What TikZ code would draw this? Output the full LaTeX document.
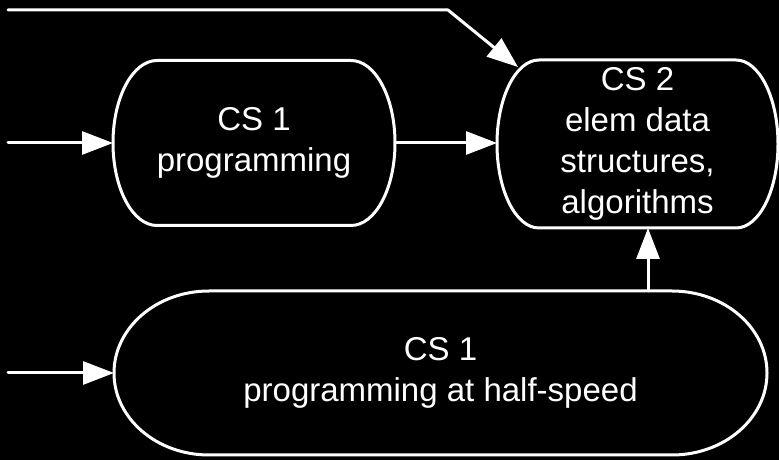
\documentclass[tikz,border=0pt]{standalone}
\usepackage{fontspec}
\setmainfont{Liberation Sans}
\usetikzlibrary{arrows.meta}
\newcommand\stadiumoutline[3]{%
  \draw[outline] ([xshift=#2pt]#1.north west) -- ([xshift=-#2pt]#1.north east)
    arc[start angle=90,end angle=-90,x radius=#2pt,y radius=#3pt]
    -- ([xshift=#2pt]#1.south west)
    arc[start angle=270,end angle=90,x radius=#2pt,y radius=#3pt] -- cycle;}
\begin{document}
\begin{tikzpicture}[x=1pt,y=1pt,
  box/.style={rectangle, draw=none, inner sep=0pt, outer sep=0pt, align=center,
    text=white, font=\fontsize{33}{41}\selectfont},
  outline/.style={draw=white, line width=3pt},
  arr/.style={draw=white, line width=3pt, line cap=round, line join=round,
    -{Triangle[length=31pt,width=23pt]}, fill=none},
  arr/.append style={every arrow/.style={fill=white}}]
\fill[black] (0,0) rectangle (779,460);
\useasboundingbox (0,0) rectangle (779,460);

\node[box, minimum width=282pt, minimum height=165pt] (cs1) at (254,317) {CS 1\\programming};
\node[box, minimum width=281pt, minimum height=168pt] (cs2) at (637.5,316) {CS 2\\elem data\\structures,\\algorithms};
\node[box, minimum width=653pt, minimum height=164pt] (bot) at (440.5,87) {CS 1\\programming at half-speed};

\stadiumoutline{cs1}{44}{82.5}
\stadiumoutline{cs2}{42}{84}
\stadiumoutline{bot}{95}{82}

\coordinate (in1) at (8,317);
\coordinate (in2) at (8,87);
\coordinate (topstart) at (8,450);
\coordinate (topcorner) at (448,450);
\coordinate (topend) at (518,393);
\coordinate (upx) at (648,0);

\draw[arr] (in1) -- (cs1.west);
\draw[arr] (in2) -- (bot.west);
\draw[arr] (cs1.east) -- (cs2.west |- cs1.east);
\draw[arr] (upx |- bot.north) -- (upx |- cs2.south);
\draw[arr] (topstart) -- (topcorner) -- (topend);
\end{tikzpicture}
\end{document}
